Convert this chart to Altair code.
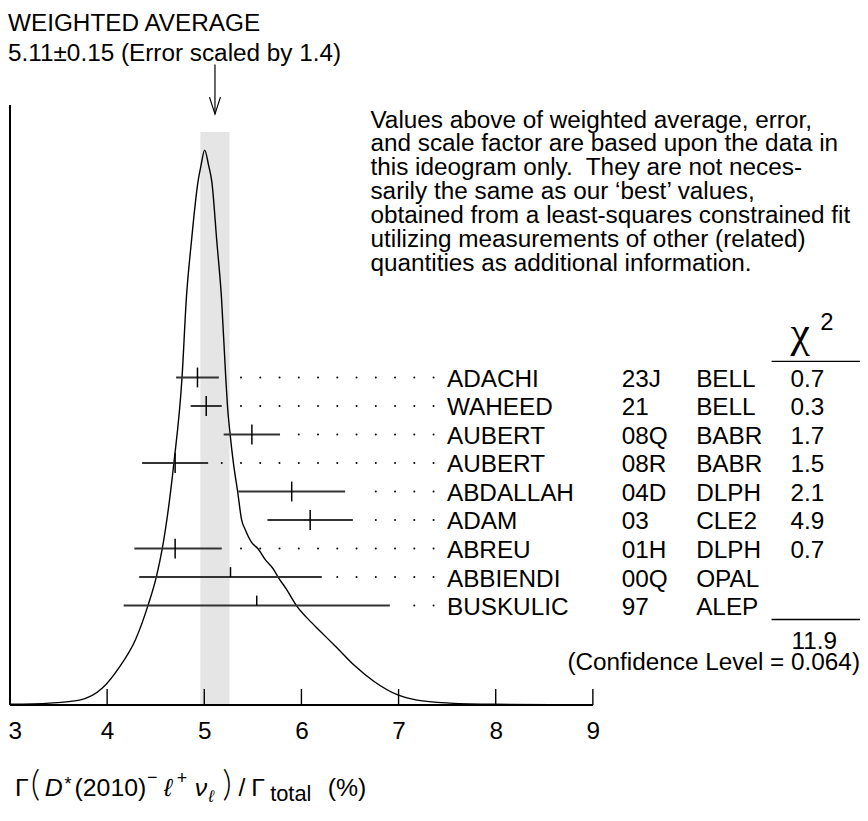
import altair as alt
import pandas as pd
import numpy as np

# ---------------- data ----------------
authors = ["ADACHI", "WAHEED", "AUBERT", "AUBERT", "ABDALLAH", "ADAM", "ABREU", "ABBIENDI", "BUSKULIC"]
years = ["23J", "21", "08Q", "08R", "04D", "03", "01H", "00Q", "97"]
experiments = ["BELL", "BELL", "BABR", "BABR", "DLPH", "CLE2", "DLPH", "OPAL", "ALEP"]
values = [4.93, 5.02, 5.49, 4.70, 5.90, 6.09, 4.70, 5.27, 5.54]
err_minus = [0.22, 0.16, 0.29, 0.34, 0.55, 0.44, 0.42, 0.94, 1.37]
err_plus = [0.22, 0.16, 0.29, 0.34, 0.55, 0.44, 0.48, 0.94, 1.37]
chi2 = ["0.7", "0.3", "1.7", "1.5", "2.1", "4.9", "0.7", "", ""]
used = [True, True, True, True, True, True, True, False, False]

wavg = 5.11
werr = 0.15
err_scale = "1.4"
chi2_total = "11.9"
conf_level = "0.064"

curve_x = [3.00, 3.409, 3.716, 3.951, 4.117, 4.295, 4.421, 4.506, 4.567, 4.687, 4.771, 4.816,
           4.868, 4.935, 4.967, 5.004, 5.044, 5.078, 5.129, 5.177, 5.221, 5.239, 5.266, 5.300,
           5.344, 5.385, 5.420, 5.487, 5.555, 5.624, 5.709, 5.760, 5.845, 5.947, 6.100, 6.199,
           6.373, 6.544, 6.748, 6.986, 7.191, 7.528, 7.978, 9.000]
curve_y = [0.001, 0.003, 0.008, 0.028, 0.061, 0.110, 0.166, 0.213, 0.260, 0.403, 0.546, 0.679,
           0.773, 0.872, 0.900, 0.925, 0.900, 0.872, 0.773, 0.679, 0.546, 0.498, 0.451, 0.403,
           0.355, 0.308, 0.293, 0.271, 0.260, 0.243, 0.227, 0.213, 0.193, 0.166, 0.138, 0.122,
           0.094, 0.066, 0.039, 0.017, 0.008, 0.003, 0.001, 0.000]

tick_values = [3, 4, 5, 6, 7, 8, 9]

note_lines = [
    "Values above of weighted average, error,",
    "and scale factor are based upon the data in",
    "this ideogram only.\u00a0 They are not neces-",
    "sarily the same as our \u2018best\u2019 values,",
    "obtained from a least-squares constrained fit",
    "utilizing measurements of other (related)",
    "quantities as additional information.",
]

# ---------------- layout ----------------
FONT = "Liberation Sans, Arial, Helvetica, sans-serif"
FS = 24.5
PX = 97.83            # pixels per x unit
W, H = 856, 604       # plot area
X0 = 3.0
ROW_TOP, ROW_STEP = 274.3, 28.71

xscale = alt.Scale(domain=[X0, X0 + W / PX], nice=False, zero=False)
rscale = alt.Scale(domain=[-ROW_TOP / ROW_STEP, (H - ROW_TOP) / ROW_STEP],
                   reverse=True, nice=False, zero=False)
hscale = alt.Scale(domain=[0, 1], nice=False, zero=False)
xaxis = alt.Axis(values=tick_values, domain=False, ticks=False, tickSize=0, grid=False,
                 title=None, labelFont=FONT, labelFontSize=FS, labelColor="black",
                 labelPadding=15, labelFlush=True, labelFlushOffset=2, format="d")


def X(field=None, **kw):
    if field is None:
        return alt.X(scale=xscale, axis=xaxis, **kw)
    return alt.X(field, scale=xscale, axis=xaxis, **kw)


rows = pd.DataFrame({
    "row": list(range(len(authors))),
    "author": authors, "year": years, "exp": experiments,
    "val": values,
    "lo": [v - m for v, m in zip(values, err_minus)],
    "hi": [v + p for v, p in zip(values, err_plus)],
    "chi2": chi2, "used": used,
})

# leader dots on a fixed grid, drawn where there is room after the error bar
dot_grid = 5.180 + 0.1982 * np.arange(12)
dots = []
for r in rows.itertuples():
    for d in dot_grid:
        if d > r.hi + 12 / PX:
            dots.append({"row": r.row, "dx": float(d)})
dots = pd.DataFrame(dots)

curve = pd.DataFrame({"x": curve_x, "h": curve_y})
ticks = pd.DataFrame({"t": tick_values})

# ---------------- layers ----------------
band = alt.Chart(pd.DataFrame({"lo": [wavg - werr], "hi": [wavg + werr]})).mark_rect(
    color="#e5e5e5").encode(x=X("lo:Q"), x2="hi:Q", y=alt.value(27), y2=alt.value(H))

line = alt.Chart(curve).mark_line(color="black", strokeWidth=1.4, interpolate="monotone").encode(
    x=X("x:Q"), y=alt.Y("h:Q", scale=hscale, axis=None))

base_rule = alt.Chart(ticks).mark_rule(color="black", strokeWidth=1.6).encode(
    x=X(datum=min(tick_values)), x2=alt.X2(datum=max(tick_values)), y=alt.value(H))
left_rule = alt.Chart(ticks).mark_rule(color="black", strokeWidth=1.6).encode(
    x=X(datum=min(tick_values)), y=alt.value(0), y2=alt.value(H))
tick_marks = alt.Chart(ticks).mark_rule(color="black", strokeWidth=1.4).encode(
    x=X("t:Q"), y=alt.value(H - 16), y2=alt.value(H))

ybar = alt.Y("row:Q", scale=rscale, axis=None)
bars = alt.Chart(rows).mark_rule(color="#333333", strokeWidth=2).encode(
    x=X("lo:Q"), x2="hi:Q", y=ybar)
full_ticks = alt.Chart(rows).transform_filter("datum.used").mark_tick(
    orient="vertical", size=20, thickness=1.5, color="black", opacity=1).encode(x=X("val:Q"), y=ybar)
half_ticks = alt.Chart(rows).transform_filter("!datum.used").mark_tick(
    orient="vertical", size=10, thickness=1.5, color="black", opacity=1, yOffset=-5).encode(
    x=X("val:Q"), y=ybar)
dot_layer = alt.Chart(dots).mark_circle(size=4, color="black", opacity=1).encode(
    x=X("dx:Q"), y=ybar)


def col_text(field, xpx):
    return alt.Chart(rows).mark_text(align="left", baseline="middle", font=FONT, fontSize=FS,
                                     color="black", dy=2.5).encode(
        x=alt.value(xpx), y=ybar, text=f"{field}:N")


names = col_text("author", 440)
yrs = col_text("year", 616)
exps = col_text("exp", 691)
chis = col_text("chi2", 786)


def label(txt, x, y, size=FS, align="left", baseline="middle", style="normal",
          font=FONT, **kw):
    return alt.Chart(ticks).transform_filter("datum.t == 3").mark_text(
        align=align, baseline=baseline, font=font, fontSize=size, fontStyle=style,
        color="black", **kw).encode(x=alt.value(x), y=alt.value(y), text=alt.value(txt))


top1 = label("WEIGHTED AVERAGE", -2, -81.5)
top2 = label(f"{wavg:.2f}\u00b1{werr:.2f} (Error scaled by {err_scale})", -2, -51.5)

arrow_line = alt.Chart(ticks).transform_filter("datum.t == 3").mark_rule(
    color="black", strokeWidth=1.2).encode(x=X(datum=wavg), y=alt.value(-41), y2=alt.value(9))
arrow_head = alt.Chart(ticks).transform_filter("datum.t == 3").mark_point(
    shape="M -0.65 -2 L 0 0 L 0.65 -2", size=289, filled=False, color="black",
    strokeWidth=1.2, opacity=1).encode(x=X(datum=wavg), y=alt.value(9))

note = alt.Chart(ticks).transform_filter("datum.t == 3").mark_text(
    align="left", baseline="alphabetic", font=FONT, fontSize=FS, lineHeight=24,
    color="black").encode(x=alt.value(363), y=alt.value(22.6), text=alt.value(note_lines))

chi_head = label("\u03c7", 786, 244, size=44, baseline="alphabetic",
                 font="Liberation Serif, DejaVu Serif, serif")
chi_sup = label("2", 816, 226, size=24, baseline="alphabetic")
head_rule = alt.Chart(ticks).transform_filter("datum.t == 3").mark_rule(
    color="black", strokeWidth=1.3).encode(x=alt.value(767), x2=alt.value(856), y=alt.value(258))
foot_rule = alt.Chart(ticks).transform_filter("datum.t == 3").mark_rule(
    color="black", strokeWidth=1.3).encode(x=alt.value(767), x2=alt.value(856), y=alt.value(518))
chi_tot = label(chi2_total, 787, 540.5)
conf = label(f"(Confidence Level = {conf_level})", 856, 561.5, align="right")

# x-axis title, assembled from pieces
TB = 696   # main baseline (plot coords)
PAREN_FONT = "Lato, Liberation Sans, sans-serif"
title_parts = [
    label("\u0393", 5, TB, size=25, baseline="alphabetic"),
    label("(", 21, TB, size=36, baseline="alphabetic", font=PAREN_FONT, fontWeight=300),
    label("D", 35, TB, size=25, baseline="alphabetic", style="italic"),
    label("*", 55, TB - 6, size=18, baseline="alphabetic"),
    label("(2010)", 65, TB, size=25, baseline="alphabetic"),
    label("\u2212", 138, TB - 13, size=18, baseline="alphabetic"),
    label("\u2113", 155, TB, size=25, baseline="alphabetic", style="italic"),
    label("+", 168, TB - 12, size=18, baseline="alphabetic"),
    label("\u03bd", 186, TB, size=25, baseline="alphabetic", style="italic"),
    label("\u2113", 200, TB + 6, size=17, baseline="alphabetic", style="italic"),
    label(")", 214, TB, size=36, baseline="alphabetic", font=PAREN_FONT, fontWeight=300),
    label("/", 230, TB, size=25, baseline="alphabetic"),
    label("\u0393", 243, TB, size=25, baseline="alphabetic"),
    label("total", 262, TB + 5, size=22, baseline="alphabetic"),
    label("(%)", 320, TB, size=25, baseline="alphabetic"),
]

chart = alt.layer(
    band, line, base_rule, left_rule, tick_marks, bars, full_ticks, half_ticks, dot_layer,
    names, yrs, exps, chis, top1, top2, arrow_line, arrow_head, note,
    chi_head, chi_sup, head_rule, foot_rule, chi_tot, conf, *title_parts
).resolve_scale(y="independent").properties(
    width=W, height=H,
    padding={"left": 2, "top": 95, "right": 0, "bottom": 99},
    autosize=alt.AutoSizeParams(type="none"),
    background="white",
).configure_view(stroke=None)

chart.save("out.html", embed_options={"renderer": "svg", "actions": False})
